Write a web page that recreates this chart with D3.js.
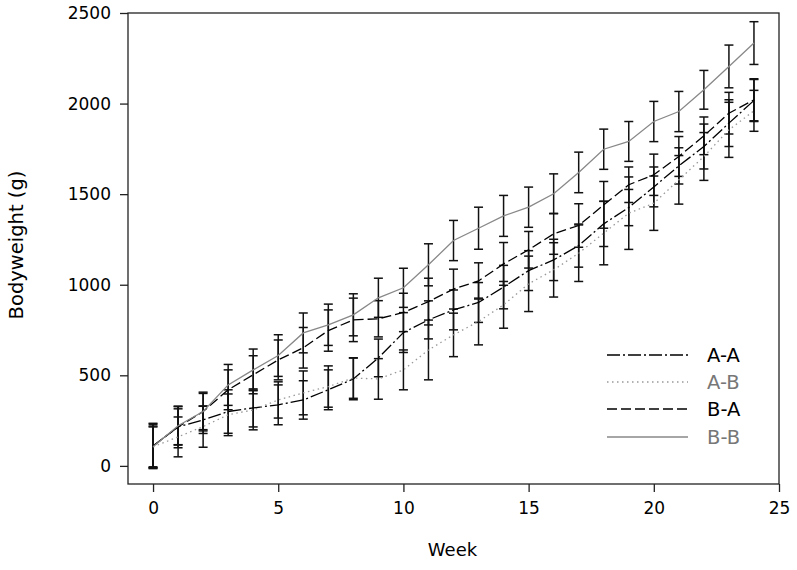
<!DOCTYPE html>
<html><head><meta charset="utf-8">
<script src="https://cdn.jsdelivr.net/npm/d3@7/dist/d3.min.js"></script>
<style>body{margin:0;background:#fff}svg{display:block}</style>
</head><body>
<svg id="chart" width="797" height="570"></svg>
<script>
const weeks = d3.range(0, 25);
const seriesNames = ["A-A", "A-B", "B-A", "B-B"];
const aaMean = [110,215,254,300,320,337,364,420,480,596,736,806,861,902,987,1078,1137,1216,1336,1426,1540,1656,1763,1892,2017];
const aaSD   = [120,115,75,120,105,110,106,110,115,104,110,105,110,110,120,110,114,119,125,100,110,100,124,129,116];
const abMean = [105,160,217,282,309,364,403,438,485,480,530,640,723,797,889,1005,1082,1174,1285,1395,1450,1579,1708,1855,1960];
const abSD   = [110,110,114,115,110,100,121,114,112,112,110,165,120,129,129,153,150,156,175,200,150,134,132,152,113];
const baMean = [110,215,300,420,503,585,652,747,806,812,847,907,976,1021,1115,1193,1281,1327,1441,1552,1607,1708,1822,1947,2021];
const baSD   = [125,100,100,110,105,110,112,114,120,100,106,129,110,100,118,101,113,120,129,98,114,110,104,115,116];
const bbMean = [105,222,300,447,530,609,734,779,834,928,983,1110,1244,1312,1380,1428,1502,1620,1748,1791,1901,1956,2076,2205,2334];
const bbSD   = [115,105,107,113,115,115,110,114,116,108,108,116,111,116,113,111,110,112,111,110,111,111,107,118,118];
const xTicks = [0,5,10,15,20,25];
const yTicks = [0,500,1000,1500,2000,2500];

const styles = {
  "A-A": {stroke:"#000", dash:"13,3,2,3", width:1.3, text:"#000"},
  "A-B": {stroke:"#999", dash:"1.5,3.5", width:1.3, text:"#777"},
  "B-A": {stroke:"#000", dash:"10,4", width:1.3, text:"#000"},
  "B-B": {stroke:"#888", dash:null, width:1.3, text:"#777"}
};
const series = [
  {name:"A-A", mean:aaMean, sd:aaSD},
  {name:"A-B", mean:abMean, sd:abSD},
  {name:"B-A", mean:baMean, sd:baSD},
  {name:"B-B", mean:bbMean, sd:bbSD}
];

const svg = d3.select("#chart");
const font = "DejaVu Sans, Verdana, sans-serif";
const L = 128, R = 779, T = 13, B = 484;
const x = d3.scaleLinear().domain([-1, 25]).range([L, R]);
const y = d3.scaleLinear().domain([-100, 2500]).range([B, T]);

// frame
svg.append("rect").attr("x", L).attr("y", T).attr("width", R - L).attr("height", B - T)
  .attr("fill", "none").attr("stroke", "#222").attr("stroke-width", 1.3);

// axes
const yAxis = svg.append("g").attr("transform", `translate(${L},0)`)
  .call(d3.axisLeft(y).tickValues(yTicks).tickSize(8).tickPadding(9).tickFormat(d3.format("d")));
const xAxis = svg.append("g").attr("transform", `translate(0,${B})`)
  .call(d3.axisBottom(x).tickValues(xTicks).tickSize(8).tickPadding(10).tickFormat(d3.format("d")));
[yAxis, xAxis].forEach(g => {
  g.select(".domain").remove();
  g.selectAll(".tick line").attr("stroke", "#222").attr("stroke-width", 1.3);
  g.selectAll(".tick text").attr("fill", "#000").style("font-family", font).style("font-size", "17px");
});

// error bars
const cap = 4.5;
series.forEach(s => {
  const g = svg.append("g").attr("stroke", "#111").attr("stroke-width", 1.5).attr("fill", "none");
  weeks.forEach((w, i) => {
    const cx = x(w), y1 = y(s.mean[i] + s.sd[i]), y0 = y(s.mean[i] - s.sd[i]);
    g.append("line").attr("x1", cx).attr("x2", cx).attr("y1", y1).attr("y2", y0);
    g.append("line").attr("x1", cx - cap).attr("x2", cx + cap).attr("y1", y1).attr("y2", y1);
    g.append("line").attr("x1", cx - cap).attr("x2", cx + cap).attr("y1", y0).attr("y2", y0);
  });
});

// lines
const line = d3.line().x((d, i) => x(weeks[i])).y(d => y(d));
series.forEach(s => {
  const st = styles[s.name];
  svg.append("path").datum(s.mean).attr("d", line).attr("fill", "none")
    .attr("stroke", st.stroke).attr("stroke-width", st.width)
    .attr("stroke-dasharray", st.dash);
});

// legend
const legY = [355, 382, 409, 437];
series.forEach((s, i) => {
  const st = styles[s.name];
  svg.append("line").attr("x1", 607).attr("x2", 688).attr("y1", legY[i]).attr("y2", legY[i])
    .attr("stroke", st.stroke).attr("stroke-width", st.width).attr("stroke-dasharray", st.dash);
  svg.append("text").attr("x", 707).attr("y", legY[i]).attr("dy", "0.36em")
    .attr("fill", st.text).style("font-family", font).style("font-size", "19.5px").text(s.name);
});

// axis titles
svg.append("text").attr("x", (L + R) / 2 - 1).attr("y", 556).attr("text-anchor", "middle")
  .style("font-family", font).style("font-size", "18px").text("Week");
svg.append("text").attr("transform", "translate(23,245) rotate(-90)").attr("text-anchor", "middle")
  .style("font-family", font).style("font-size", "19.5px").text("Bodyweight (g)");
</script>
</body></html>
